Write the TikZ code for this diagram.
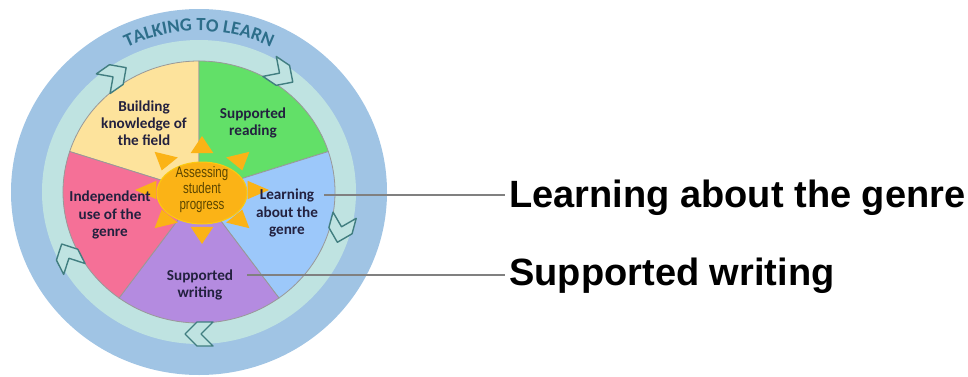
\documentclass[tikz,border=0pt]{standalone}
\usepackage{fontspec}
\usepackage{tikz}
\usetikzlibrary{calc, decorations.text}
\usepackage{xcolor}

\newfontfamily\setorfont{Carlito}
\newfontfamily\solfont[FakeStretch=0.76]{Liberation Sans}
\newfontfamily\rotulofont{Liberation Sans}

\definecolor{anelazul}{HTML}{A0C4E4}
\definecolor{anelverde}{HTML}{BFE3E1}
\definecolor{amarelo}{HTML}{FDE39C}
\definecolor{verde}{HTML}{62E068}
\definecolor{azulclaro}{HTML}{9CC8FA}
\definecolor{roxo}{HTML}{B48BE0}
\definecolor{rosa}{HTML}{F57097}
\definecolor{laranja}{HTML}{FBB316}
\definecolor{setatraco}{HTML}{417E80}
\definecolor{titulo}{HTML}{2D6E8A}
\definecolor{textonavy}{HTML}{23213F}
\definecolor{textosol}{HTML}{5C4600}

\begin{document}
\begin{tikzpicture}[x=0.5pt, y=0.5pt,
  setor/.style={draw=black!40, line width=0.4pt},
  seta/.style={draw=setatraco, fill=anelverde, line width=0.7pt, line join=round},
  raio/.style={fill=laranja},
  sol/.style={fill=laranja, draw=laranja!70!yellow, line width=0.5pt},
  setortexto/.style={font=\setorfont\bfseries\fontsize{7.6}{8.6}\selectfont, text=textonavy, align=center, inner sep=0pt},
  soltexto/.style={font=\solfont\fontsize{7.6}{8}\selectfont, text=textosol, align=center, inner sep=0pt},
  rotulo/.style={font=\rotulofont\bfseries\fontsize{19}{22}\selectfont, anchor=base west, inner sep=2pt},
  linha/.style={draw=black!50, line width=1pt}]
  \useasboundingbox (0,0) rectangle (968,376);

  \coordinate (O) at (199,184);
  \coordinate (S) at (202,186);

  % Aneis
  \fill[anelazul] (O) ellipse[x radius=188, y radius=183];
  \fill[anelverde] (O) ellipse[x radius=157, y radius=152];

  % Setores
  \foreach \ini/\cor in {90/amarelo, 18/verde, -54/azulclaro, -126/roxo, 162/rosa}
    \filldraw[setor, fill=\cor] (O) -- ($(O)+(\ini:136 and 131)$)
      arc[start angle=\ini, delta angle=72, x radius=136, y radius=131] -- cycle;

  % Setas no anel
  \foreach \a/\r in {125/35, 56/-34, -15/-105, -90/-180, 207/117}
    \draw[seta, shift={($(O)+(\a:147 and 142)$)}, rotate=\r]
      (-14,12) -- (2,12) -- (14,0) -- (2,-12) -- (-14,-12) -- (-2,0) -- cycle;

  % Titulo no arco
  \path[decorate, decoration={text along path, text align=center, text color=titulo,
      text={|\setorfont\bfseries\fontsize{9.3}{10}\selectfont|TALKING TO LEARN}}]
    ($(O)+(125:165 and 161)$) arc[start angle=125, end angle=55, x radius=165, y radius=161];

  % Sol
  \foreach \a in {0,45,...,315}
    \fill[raio] ($(S)+(\a:67 and 54)$) -- ($(S)+({\a+14}:47 and 38)$)
      -- ($(S)+({\a-14}:47 and 38)$) -- cycle;
  \filldraw[sol] (202,183) ellipse[x radius=45, y radius=31];
  \node[soltexto] (sol) at (S) {Assessing\\student\\progress};

  % Textos dos setores
  \node[setortexto] (conhecimento) at (144,253) {Building\\knowledge of\\the field};
  \node[setortexto] (leitura) at (253,253) {Supported\\reading};
  \node[setortexto] (genero) at (287,163) {Learning\\about the\\genre};
  \node[setortexto] (escrita) at (200,91) {Supported\\writing};
  \node[setortexto] (independente) at (110,161) {Independent\\use of the\\genre};

  % Rotulos
  \node[rotulo] (rotgenero) at (505,169) {Learning about the genre};
  \node[rotulo] (rotescrita) at (505,91) {Supported writing};
  \coordinate (pgenero) at (324,181);
  \coordinate (pescrita) at (247,101);
  \draw[linha] (pgenero) -- (pgenero -| rotgenero.west);
  \draw[linha] (pescrita) -- (pescrita -| rotescrita.west);
\end{tikzpicture}
\end{document}
